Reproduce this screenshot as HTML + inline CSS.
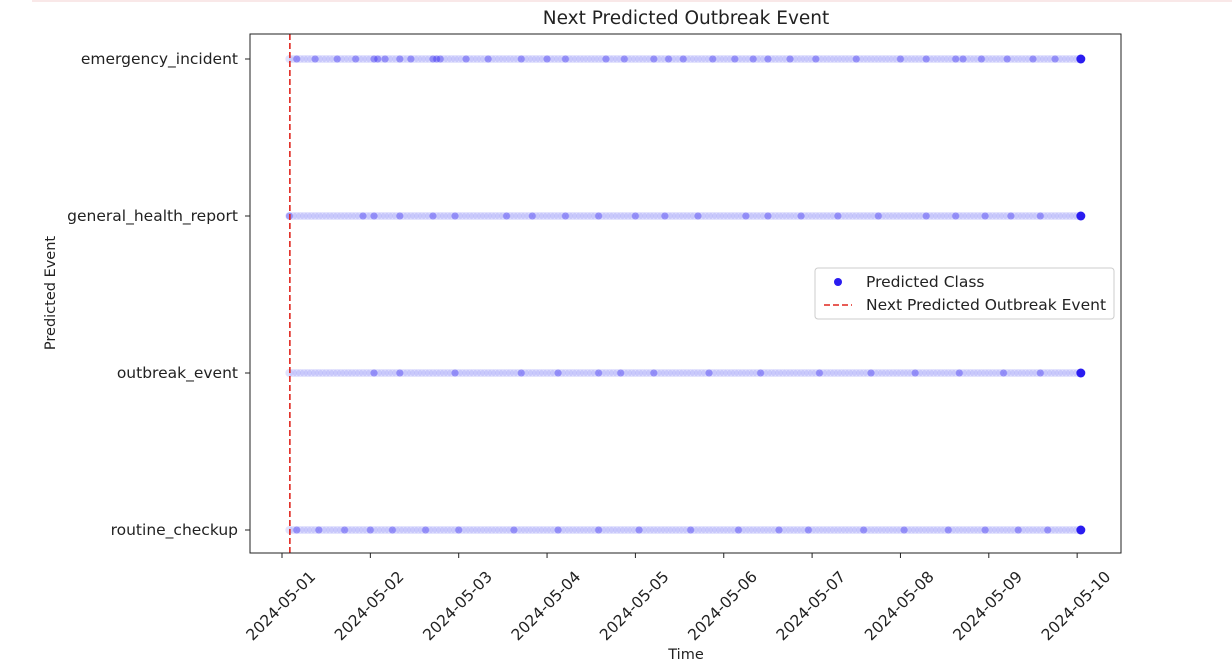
<!DOCTYPE html>
<html><head><meta charset="utf-8"><style>
body{margin:0;background:#fff;font-family:"Liberation Sans","DejaVu Sans",sans-serif}
svg text{font-family:"DejaVu Sans","Liberation Sans",sans-serif;fill:#222}
</style></head><body>
<svg id="chart" width="1232" height="666" xmlns="http://www.w3.org/2000/svg">
<line x1="32" y1="1" x2="1232" y2="1" stroke="#f3d0d0"/>
<text x="686" y="24" font-size="18.5" text-anchor="middle">Next Predicted Outbreak Event</text>
<g id="plot"></g>
<rect x="250" y="34" width="871" height="519" fill="none" stroke="#222" stroke-width="1"/>
<text x="686" y="659" font-size="14.5" text-anchor="middle">Time</text>
<text x="0" y="0" font-size="14.5" text-anchor="middle" transform="translate(55,293) rotate(-90)">Predicted Event</text>
<g>
<rect x="815" y="268" width="299" height="51" fill="#fff" stroke="#ccc" rx="3"/>
<circle cx="838" cy="282" r="4" fill="#2a1cf0"/>
<text x="866" y="287" font-size="15.5">Predicted Class</text>
<line x1="824" y1="305" x2="852" y2="305" stroke="#e0261f" stroke-width="1.6" stroke-dasharray="6,3"/>
<text x="866" y="310" font-size="15.5">Next Predicted Outbreak Event</text>
</g>
</svg>
<script>
const categories=["emergency_incident","general_health_report","outbreak_event","routine_checkup"];
const tickLabels=["2024-05-01","2024-05-02","2024-05-03","2024-05-04","2024-05-05","2024-05-06","2024-05-07","2024-05-08","2024-05-09","2024-05-10"];
const startHour=2, endHour=217; // hours since 2024-05-01 00:00
const nextEventHour=2;
const darkEmergency=[4,9,15,20,25,26,28,32,35,41,42,43,50,56,65,72,77,88,93,101,105,109,117,123,128,132,138,145,156,168,175,183,185,190,197,204,210,217];
const darkGeneral=[2,22,25,32,41,47,61,68,77,86,96,104,113,126,132,141,151,162,175,183,191,198,206,217];
const darkOutbreak=[25,32,47,65,75,86,92,101,116,130,146,160,172,184,196,206,217];
const darkRoutine=[4,10,17,24,30,39,48,63,75,86,97,111,124,135,143,158,169,181,191,200,208,217];
const darkSeries=[darkEmergency,darkGeneral,darkOutbreak,darkRoutine];

const NS="http://www.w3.org/2000/svg";
const plot=document.getElementById('plot');
const x=h=>282+h/24*88.35;
const y=i=>59+i*157;
function mk(t,a){const e=document.createElementNS(NS,t);for(const k in a)e.setAttribute(k,a[k]);plot.appendChild(e);return e;}
categories.forEach((c,i)=>{
 const t=mk('line',{x1:245,x2:250,y1:y(i),y2:y(i),stroke:'#222'});
 
 
 const l=mk('text',{x:238,y:y(i)+5,'font-size':15.5,'text-anchor':'end'});
 l.textContent=c;
 
 
});
tickLabels.forEach((lab,i)=>{
 const px=x(i*24);
 const t=mk('line',{x1:px,x2:px,y1:553,y2:558,stroke:'#222'});
 
 
 const l=mk('text',{x:0,y:5,'font-size':15.5,'text-anchor':'middle',transform:`translate(${px-1},${606}) rotate(-45)`});
 l.textContent=lab;
 
 
});
categories.forEach((c,i)=>{
 for(let h=startHour;h<=endHour;h++){
  const p=mk('circle',{cx:x(h),cy:y(i),r:4,fill:'#6b6bf5','fill-opacity':0.2});
  
  
 }
 darkSeries[i].forEach(h=>{
  const last=h===endHour;
  const p=mk('circle',{cx:x(h),cy:y(i),r:last?4.5:3.5,fill:'#2a1cf0','fill-opacity':last?1:0.35});
  
  
 });
});
const v=mk('line',{x1:x(nextEventHour)+0.5,x2:x(nextEventHour)+0.5,y1:34,y2:553,stroke:'#e0261f','stroke-width':1.6,'stroke-dasharray':'6,3'});


</script>
</body></html>
